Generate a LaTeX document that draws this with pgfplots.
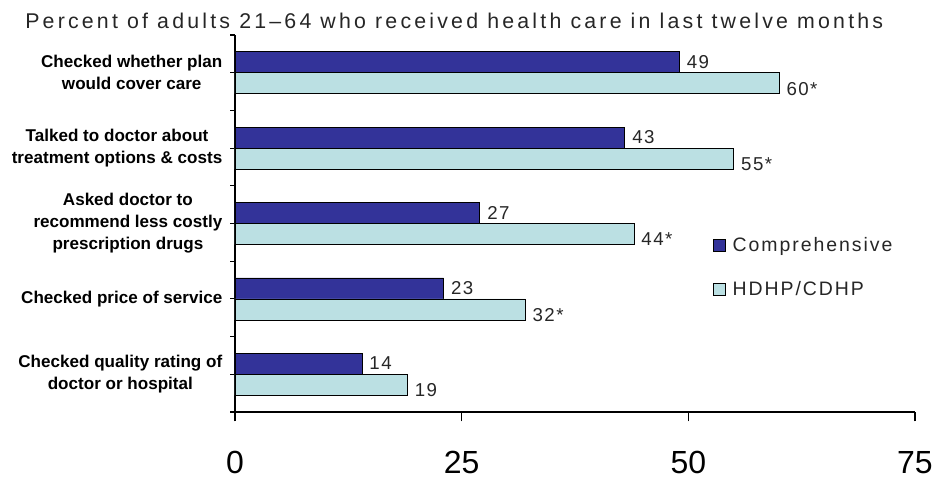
\documentclass[border=0pt]{standalone}
\usepackage{fontspec}
\setmainfont{Liberation Sans}
\newfontfamily\spaced{Liberation Sans}[LetterSpace=8]
\newfontfamily\spacedl{Liberation Sans}[LetterSpace=10]
\newfontfamily\spacedt{Liberation Sans}[LetterSpace=15]
\usepackage{pgfplots}
\usepackage{pgfplotstable}
\pgfplotsset{compat=1.18}
\definecolor{darkbar}{RGB}{51,51,153}
\definecolor{lightbar}{RGB}{187,224,227}
\pgfplotstableread{
y comp complab hdhp hdhplab
0 49 49 60 60*
1 43 43 55 55*
2 27 27 44 44*
3 23 23 32 32*
4 14 14 19 19
}\datatable
\begin{document}
\begin{tikzpicture}
\path (0,0) rectangle (702pt,360.75pt);
\node[font=\spacedt\fontsize{16}{16}\selectfont, text=black!85, anchor=west, inner sep=0pt] at (18.75pt,345pt) {Percent of adults 21–64 who received health care in last twelve months};
\begin{axis}[
  at={(176.25pt,51.75pt)}, anchor=south west,
  scale only axis, width=510pt, height=282.75pt,
  bar width=15.75pt,
  xmin=0, xmax=75, ymin=-0.5, ymax=4.5, y dir=reverse,
  axis x line*=bottom, axis y line*=left,
  axis line style={black, line width=0.8pt},
  xtick={0,25,50,75},
  ytick={-0.5,0.5,1.5,2.5,3.5,4.5}, yticklabels={},
  tick align=outside,
  xtick style={black, line width=0.8pt, /pgfplots/major tick length=7pt},
  ytick style={black, line width=0.8pt, /pgfplots/major tick length=3.5pt},
  xticklabel style={font=\fontsize{24}{24}\selectfont, inner sep=0pt, text depth=0pt, yshift=-25pt},
  /pgf/number format/assume math mode=true,
  extra y ticks={0,1,2,3,4},
  extra y tick labels={{Checked whether plan\\would cover care},{Talked to doctor about\\treatment options \& costs},{Asked doctor to\\recommend less costly\\prescription drugs},{Checked price of service},{Checked quality rating of\\doctor or hospital}},
  extra y tick style={/pgfplots/major tick length=0pt, yticklabel style={align=center, font=\bfseries\fontsize{12.8}{16.5}\selectfont, xshift=-6pt}},
  point meta=explicit symbolic,
  nodes near coords,
  every node near coord/.append style={font=\spaced\fontsize{14}{14}\selectfont, text=black!85, anchor=west, xshift=2pt},
  legend style={at={(0.697,0.383)}, anchor=west, draw=none, fill=none, row sep=17pt, font=\spacedl\fontsize{14.6}{14.6}\selectfont, text=black!85, /tikz/every odd column/.append style={column sep=3pt}},
  legend cell align=left,
  legend image code/.code={\draw[#1, draw=black] (0pt,-4.5pt) rectangle (9pt,4.5pt);},
]
\addplot[xbar, bar shift=7.875pt, fill=darkbar, draw=black, line width=0.6pt, every node near coord/.append style={yshift=8.2pt}] table[x=comp, y=y, meta=complab] {\datatable};
\addplot[xbar, bar shift=-7.875pt, fill=lightbar, draw=black, line width=0.6pt, every node near coord/.append style={yshift=-12pt}] table[x=hdhp, y=y, meta=hdhplab] {\datatable};
\legend{Comprehensive, HDHP/CDHP}
\end{axis}
\end{tikzpicture}
\end{document}
